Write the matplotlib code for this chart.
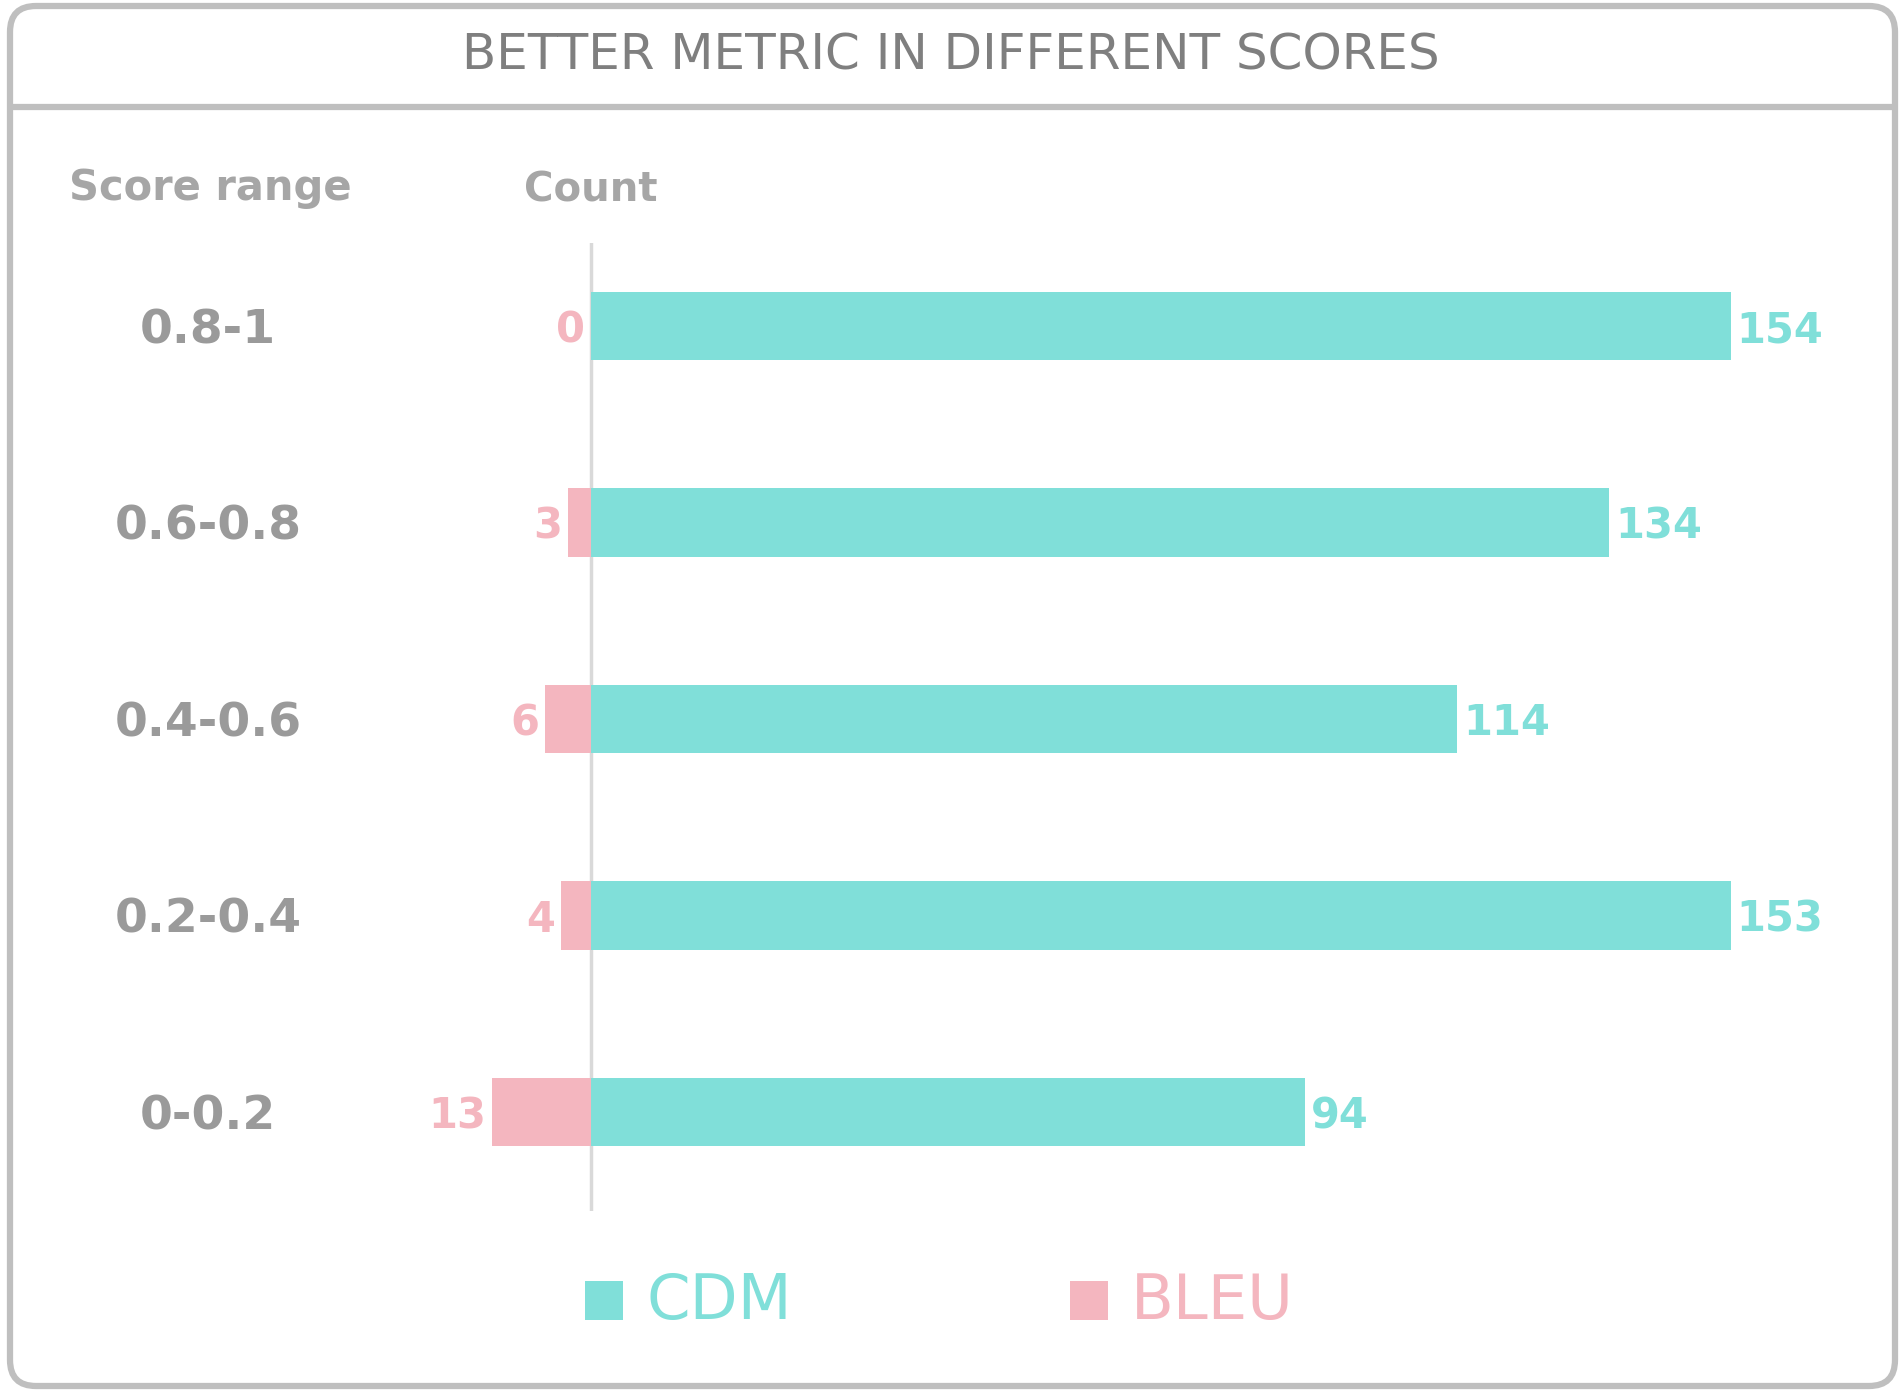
import numpy as np
import matplotlib
matplotlib.use('Agg')
import matplotlib.pyplot as plt
import matplotlib.transforms as mtransforms
from matplotlib.patches import FancyBboxPatch, Rectangle

# data
score_ranges = ['0.8-1', '0.6-0.8', '0.4-0.6', '0.2-0.4', '0-0.2']
cdm_counts = [154, 134, 114, 153, 94]
bleu_counts = [0, 3, 6, 4, 13]
series_names = ['CDM', 'BLEU']

teal = '#80dfd9'
pink = '#f4b6bf'
x_max = 150  # axis upper limit, longer bars get cut

plt.rcParams['font.family'] = ['DejaVu Sans']

fig = plt.figure(figsize=(19.02, 13.98), dpi=100)
fig.patch.set_facecolor('white')

# background layer in pixel units for frame and legend
bg = fig.add_axes([0, 0, 1, 1])
bg.set_xlim(0, 1902)
bg.set_ylim(1398, 0)
bg.axis('off')

frame = FancyBboxPatch((10, 6), 1885, 1380, boxstyle='round,pad=0,rounding_size=26',
                       fill=False, ec='#bfbfbf', lw=4.5)
bg.add_patch(frame)
bg.plot([10, 1895], [107, 107], color='#bfbfbf', lw=4.5, solid_capstyle='butt')

bg.text(951, 56, 'BETTER METRIC IN DIFFERENT SCORES', ha='center', va='center',
        fontsize=36, color='#7f7f7f')

# legend
bg.add_patch(Rectangle((585, 1281), 38, 39, color=teal, lw=0))
bg.text(647, 1302, series_names[0], ha='left', va='center', fontsize=45, color=teal)
bg.add_patch(Rectangle((1070, 1281), 38, 39, color=pink, lw=0))
bg.text(1131, 1302, series_names[1], ha='left', va='center', fontsize=45, color=pink)

# main bars
ax = fig.add_axes([135 / 1902, 1 - 1211 / 1398, 1596 / 1902, (1211 - 243) / 1398])
ax.patch.set_alpha(0)
y = np.arange(len(score_ranges))
ax.barh(y, cdm_counts, height=0.35, color=teal, edgecolor='none')
ax.barh(y, [-b for b in bleu_counts], height=0.35, color=pink, edgecolor='none')
ax.set_xlim(-60, x_max)
ax.set_ylim(4.504, -0.422)
ax.axvline(0, color='#d9d9d9', lw=2.5, zorder=0)
for s in ax.spines.values():
    s.set_visible(False)
ax.set_xticks([])
ax.set_yticks([])

for yi, v in zip(y, cdm_counts):
    ax.annotate(str(v), (min(v, x_max), yi), xytext=(4, 0), textcoords='offset points',
                ha='left', va='center_baseline', fontsize=30, fontweight='bold', color=teal)
for yi, v in zip(y, bleu_counts):
    ax.annotate(str(v), (-v, yi), xytext=(-4, 0), textcoords='offset points',
                ha='right', va='center_baseline', fontsize=30, fontweight='bold', color=pink)

# category labels
trans = mtransforms.blended_transform_factory(fig.transFigure, ax.transData)
for yi, lab in zip(y, score_ranges):
    ax.text(208 / 1902, yi, lab, transform=trans, ha='center', va='center_baseline',
            fontsize=34, fontweight='bold', color='#9a9a9a')

# column headers
fig.text(210 / 1902, 1 - 188 / 1398, 'Score range', ha='center', va='center',
         fontsize=30, fontweight='bold', color='#a6a6a6')
fig.text(591 / 1902, 1 - 190 / 1398, 'Count', ha='center', va='center',
         fontsize=29, fontweight='bold', color='#a6a6a6')

plt.savefig('out.png', dpi=100)
